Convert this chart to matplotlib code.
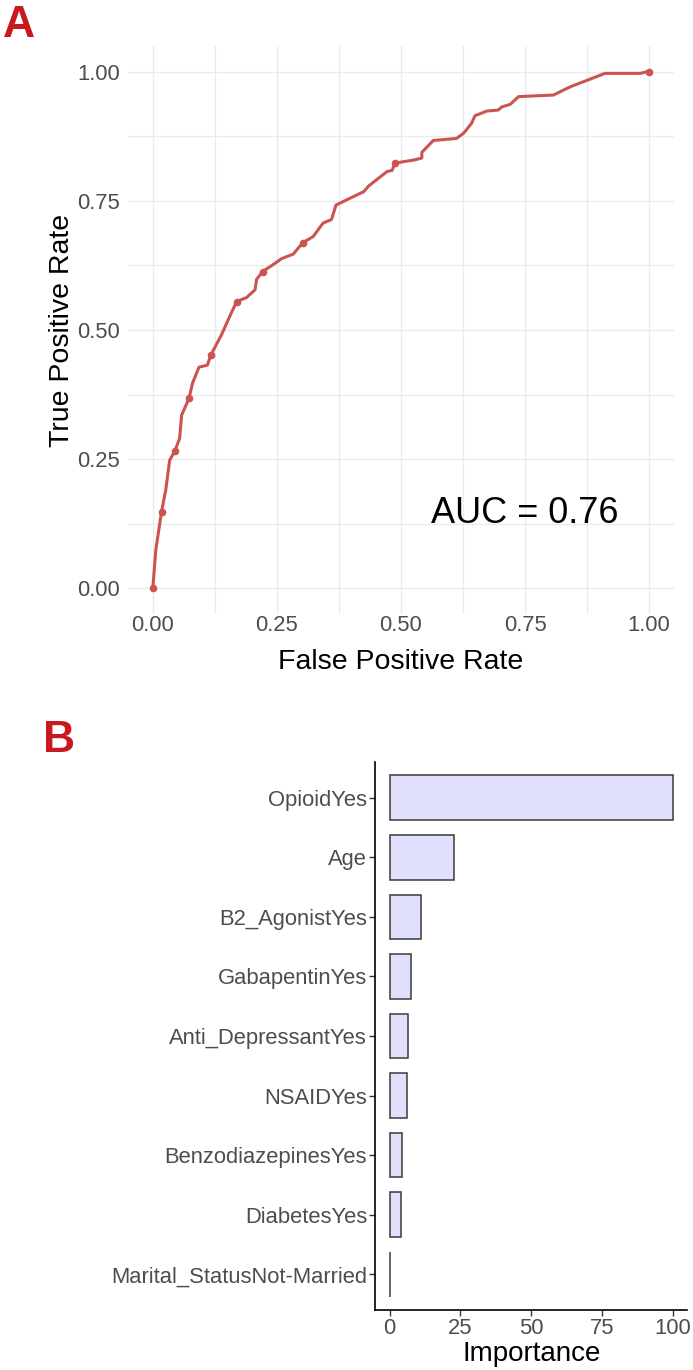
import matplotlib
matplotlib.use("Agg")
import matplotlib.pyplot as plt
import numpy as np

plt.rcParams["font.family"] = ["Liberation Sans", "DejaVu Sans"]

# ROC curve (panel A)
fpr = [0.000, 0.006, 0.0175, 0.026, 0.034, 0.044, 0.054, 0.058, 0.073, 0.080,
       0.093, 0.110, 0.117, 0.138, 0.159, 0.169, 0.189, 0.206, 0.209, 0.221,
       0.246, 0.259, 0.283, 0.302, 0.323, 0.343, 0.360, 0.369, 0.397, 0.425,
       0.435, 0.472, 0.482, 0.488, 0.505, 0.525, 0.542, 0.542, 0.565, 0.612,
       0.626, 0.642, 0.649, 0.673, 0.696, 0.703, 0.720, 0.737, 0.807, 0.841,
       0.911, 0.982, 0.995, 1.000]
tpr = [0.000, 0.074, 0.148, 0.190, 0.248, 0.265, 0.290, 0.335, 0.368, 0.397,
       0.428, 0.432, 0.452, 0.490, 0.535, 0.555, 0.563, 0.578, 0.598, 0.613,
       0.629, 0.638, 0.647, 0.669, 0.681, 0.707, 0.714, 0.742, 0.755, 0.768,
       0.779, 0.807, 0.809, 0.823, 0.826, 0.829, 0.833, 0.844, 0.867, 0.871,
       0.881, 0.900, 0.915, 0.924, 0.926, 0.932, 0.937, 0.952, 0.955, 0.971,
       0.997, 0.997, 1.000, 1.000]
dot_fpr = [0.000, 0.0175, 0.044, 0.073, 0.117, 0.169, 0.221, 0.302, 0.488, 1.000]
dot_tpr = [0.000, 0.148, 0.265, 0.368, 0.452, 0.555, 0.613, 0.669, 0.823, 1.000]
auc_label = "AUC = 0.76"

# variable importance (panel B)
features = ["OpioidYes", "Age", "B2_AgonistYes", "GabapentinYes",
            "Anti_DepressantYes", "NSAIDYes", "BenzodiazepinesYes",
            "DiabetesYes", "Marital_StatusNot-Married"]
importance = [100, 22.6, 10.95, 7.7, 6.4, 6.1, 4.5, 4.1, 0]

W, H = 693, 1370
fig = plt.figure(figsize=(W / 100, H / 100), dpi=100)


def box(l, r, t, b):
    return [l / W, 1 - b / H, (r - l) / W, (b - t) / H]


red = "#CB5450"
tick_col = "#4D4D4D"

# ---- panel A
ax = fig.add_axes(box(128, 674, 46, 614))
ax.set_xlim(-0.05, 1.05)
ax.set_ylim(-0.05, 1.05)
ticks = [0, 0.25, 0.5, 0.75, 1.0]
ax.set_xticks(ticks)
ax.set_yticks(ticks)
ax.set_xticks(np.arange(0.125, 1, 0.25), minor=True)
ax.set_yticks(np.arange(0.125, 1, 0.25), minor=True)
ax.set_xticklabels([f"{t:.2f}" for t in ticks])
ax.set_yticklabels([f"{t:.2f}" for t in ticks])
ax.grid(which="both", color="#EBEBEB", lw=1.0)
ax.set_axisbelow(True)
ax.tick_params(which="both", length=0, labelsize=15.8, labelcolor=tick_col)
ax.tick_params(axis="x", pad=1)
ax.tick_params(axis="y", pad=6)
for s in ax.spines.values():
    s.set_visible(False)
ax.plot(fpr, tpr, color=red, lw=2.2, solid_joinstyle="round")
ax.plot(dot_fpr, dot_tpr, "o", color=red, ms=5.5, mec="none")
ax.text(0.75, 0.145, auc_label, fontsize=26, ha="center", va="center")
fig.text(401 / W, 1 - 662 / H, "False Positive Rate", fontsize=20.5,
         ha="center", va="center")
fig.text(62 / W, 1 - 330 / H, "True Positive Rate", fontsize=20.5,
         ha="center", va="center", rotation=90)
fig.text(3 / W, 1 - 37 / H, "A", fontsize=32, fontweight="bold",
         color="#C8191E", ha="left", va="baseline")

# ---- panel B
bx = fig.add_axes(box(375.5, 687, 762, 1310))
y = np.arange(len(features))
bx.barh(y, importance, height=0.75, color="#E1E0FC", edgecolor="#3A3A3A",
        lw=1.1)
bx.set_xlim(-5, 105)
bx.set_ylim(len(features) - 0.4, -0.6)
bx.set_yticks(y)
bx.set_yticklabels(features)
bx.set_xticks([0, 25, 50, 75, 100])
for s in ("top", "right"):
    bx.spines[s].set_visible(False)
for s in ("left", "bottom"):
    bx.spines[s].set_linewidth(1.2)
    bx.spines[s].set_color("black")
bx.tick_params(length=4, width=1.0, color="#333333", labelsize=15.8,
               labelcolor=tick_col, pad=2)
bx.set_xlabel("Importance", fontsize=20, labelpad=1)
fig.text(43 / W, 1 - 752 / H, "B", fontsize=32, fontweight="bold",
         color="#C8191E", ha="left", va="baseline")

fig.savefig("out.png", dpi=100)
